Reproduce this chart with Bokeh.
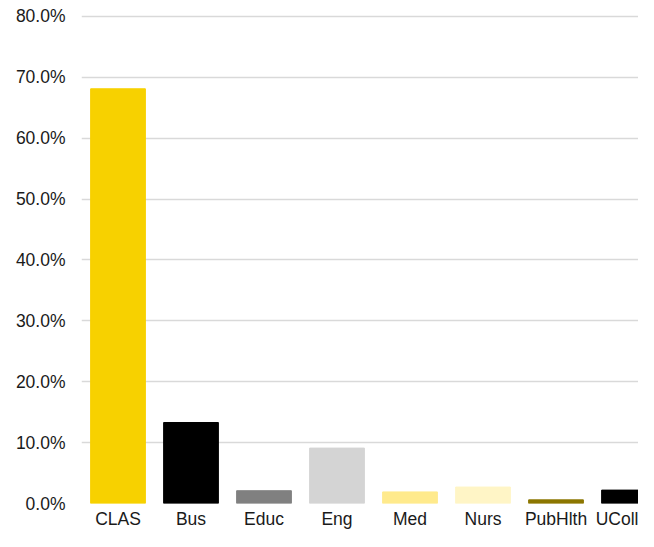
from bokeh.plotting import figure
from bokeh.models import Range1d, FixedTicker, PrintfTickFormatter, ColumnDataSource
from bokeh.embed import file_html
from bokeh.resources import INLINE

categories = ["CLAS", "Bus", "Educ", "Eng", "Med", "Nurs", "PubHlth", "UColl"]
values = [68.1, 13.3, 2.1, 9.1, 1.9, 2.7, 0.6, 2.2]
colors = ["#F7D100", "#000000", "#808080", "#D4D4D4", "#FFEA8C", "#FFF5C6", "#8C7600", "#000000"]
y_ticks = [0, 10, 20, 30, 40, 50, 60, 70, 80]

positions = list(range(len(categories)))
src = ColumnDataSource(dict(x=positions, top=values, color=colors))

p = figure(width=638, height=531, output_backend="svg", toolbar_location=None,
           x_range=Range1d(-0.5, 7.13), y_range=Range1d(0, 80.3),
           min_border_left=81, min_border_right=0, min_border_top=14, min_border_bottom=26)
p.vbar(x="x", top="top", width=0.75, color="color", source=src)

p.outline_line_color = None
p.xgrid.grid_line_color = None
p.ygrid.grid_line_color = "#D9D9D9"
p.ygrid.grid_line_width = 1.5

p.yaxis.ticker = FixedTicker(ticks=y_ticks)
p.yaxis.formatter = PrintfTickFormatter(format="%.1f%%")
p.xaxis.ticker = FixedTicker(ticks=positions)
p.xaxis.major_label_overrides = {i: c for i, c in zip(positions, categories)}

for ax in (p.xaxis[0], p.yaxis[0]):
    ax.axis_line_color = None
    ax.major_tick_line_color = None
    ax.minor_tick_line_color = None
    ax.major_tick_out = 0
    ax.major_tick_in = 0
    ax.major_label_text_font = "Liberation Sans"
    ax.major_label_text_font_size = "17.5px"
    ax.major_label_text_color = "#1A1A1A"
p.yaxis.major_label_standoff = 16
p.xaxis.major_label_standoff = 5

open("out.html", "w").write(file_html(p, INLINE))
